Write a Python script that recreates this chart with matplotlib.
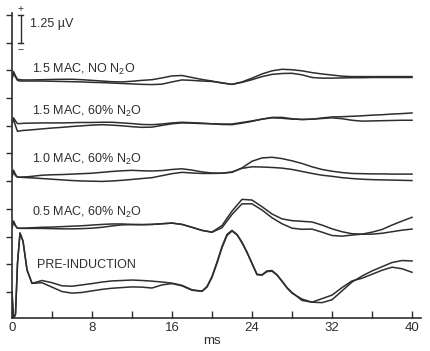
import matplotlib.pyplot as plt

plt.rcParams['font.family'] = ['Liberation Sans', 'DejaVu Sans']
plt.rcParams['mathtext.fontset'] = 'custom'
plt.rcParams['mathtext.rm'] = 'Liberation Sans'
plt.rcParams['mathtext.it'] = 'Liberation Sans:italic'

# time axis (ms)
t_ms = [0, 0.15, 0.35, 0.55, 0.8, 1.1, 1.5,
        2, 3, 4, 5, 6, 7, 8, 9, 10,
        11, 12, 13, 14, 15, 16, 17, 18, 19, 20,
        21, 22, 23, 24, 25, 26, 27, 28, 29, 30,
        31, 32, 33, 34, 35, 36, 37, 38, 39, 40]
# finer sampling around the big pre-induction wave
t_pre = [0, 0.15, 0.35, 0.55, 0.8, 1.1, 1.5,
         2, 3, 4, 5, 6, 7, 8, 9, 10, 11, 12, 13, 14, 15, 16, 17, 18,
         19, 19.5, 20, 20.5, 21, 21.5, 22, 22.5, 23, 23.5, 24, 24.5,
         25, 25.5, 26, 26.5, 27, 27.5, 28,
         29, 30, 31, 32, 33, 34, 35, 36, 37, 38, 39, 40]

# two superimposed runs per condition, in uV relative to each trace baseline
mac15_no_a = [0, 0.35, 0.15, 0.0, -0.02, -0.03, -0.03,
              -0.03, -0.02, -0.01, 0.0, 0.0, -0.02, -0.05, -0.08, -0.11,
              -0.12, -0.09, -0.05, -0.02, 0.06, 0.15, 0.17, 0.08, -0.01, -0.08,
              -0.17, -0.23, -0.12, 0.05, 0.24, 0.38, 0.45, 0.43, 0.38, 0.30,
              0.24, 0.19, 0.14, 0.12, 0.12, 0.12, 0.12, 0.12, 0.12, 0.12]
mac15_no_b = [0, 0.30, 0.10, -0.05, -0.08, -0.08, -0.08,
              -0.08, -0.08, -0.09, -0.10, -0.11, -0.12, -0.14, -0.15, -0.17,
              -0.19, -0.21, -0.23, -0.24, -0.22, -0.12, -0.03, -0.05, -0.08, -0.10,
              -0.16, -0.23, -0.14, -0.02, 0.12, 0.22, 0.26, 0.27, 0.20, 0.08,
              0.05, 0.05, 0.06, 0.07, 0.07, 0.08, 0.08, 0.08, 0.08, 0.08]

mac15_n2o_a = [0, 0.26, 0.12, 0.0, 0.0, 0.01, 0.02,
               0.02, 0.03, 0.03, 0.03, 0.04, 0.05, 0.05, 0.06, 0.06,
               0.03, 0.0, -0.04, -0.05, -0.02, 0.03, 0.06, 0.04, 0.02, -0.01,
               -0.04, -0.05, 0.02, 0.10, 0.20, 0.28, 0.28, 0.22, 0.18, 0.20,
               0.25, 0.30, 0.31, 0.33, 0.35, 0.38, 0.40, 0.43, 0.45, 0.48]
mac15_n2o_b = [0, 0.20, -0.10, -0.35, -0.33, -0.31, -0.30,
               -0.28, -0.24, -0.20, -0.17, -0.13, -0.10, -0.07, -0.05, -0.07,
               -0.10, -0.14, -0.17, -0.16, -0.08, -0.01, 0.03, 0.02, 0.0, -0.01,
               -0.02, -0.02, 0.05, 0.12, 0.20, 0.26, 0.24, 0.20, 0.19, 0.20,
               0.23, 0.26, 0.22, 0.15, 0.11, 0.12, 0.13, 0.14, 0.15, 0.15]

mac10_n2o_a = [0, 0.30, 0.10, -0.02, -0.02, -0.01, 0.0,
               0.02, 0.07, 0.09, 0.10, 0.12, 0.14, 0.16, 0.20, 0.24,
               0.27, 0.29, 0.27, 0.26, 0.28, 0.33, 0.36, 0.30, 0.22, 0.17,
               0.16, 0.20, 0.40, 0.70, 0.85, 0.88, 0.82, 0.72, 0.60, 0.45,
               0.33, 0.25, 0.19, 0.15, 0.14, 0.13, 0.13, 0.12, 0.12, 0.12]
mac10_n2o_b = [0, 0.25, 0.05, -0.02, -0.02, -0.03, -0.04,
               -0.05, -0.08, -0.11, -0.14, -0.17, -0.19, -0.20, -0.21, -0.19,
               -0.16, -0.12, -0.08, -0.04, 0.05, 0.14, 0.20, 0.17, 0.15, 0.15,
               0.16, 0.22, 0.38, 0.45, 0.44, 0.42, 0.39, 0.33, 0.24, 0.15,
               0.07, 0.02, -0.04, -0.08, -0.11, -0.13, -0.14, -0.15, -0.16, -0.17]

mac05_n2o_a = [0, 0.30, 0.10, -0.02, -0.02, -0.02, -0.01,
               0.0, 0.02, 0.03, 0.05, 0.07, 0.09, 0.12, 0.15, 0.17,
               0.17, 0.15, 0.14, 0.15, 0.18, 0.21, 0.15, 0.02, -0.12, -0.20,
               0.10, 0.75, 1.28, 1.25, 0.95, 0.62, 0.40, 0.32, 0.29, 0.26,
               0.12, -0.05, -0.18, -0.27, -0.29, -0.29, -0.25, -0.18, -0.11, -0.06]
mac05_n2o_b = [0, 0.28, 0.08, -0.02, -0.03, -0.03, -0.03,
               -0.03, -0.03, -0.04, -0.05, -0.05, -0.04, -0.02, 0.02, 0.08,
               0.13, 0.14, 0.14, 0.15, 0.18, 0.21, 0.15, 0.02, -0.12, -0.20,
               0.0, 0.60, 1.08, 1.08, 0.80, 0.45, 0.18, -0.02, -0.07, -0.06,
               -0.20, -0.35, -0.38, -0.33, -0.29, -0.20, -0.08, 0.12, 0.30, 0.47]

pre_a = [0, -1.2, -1.0, 1.3, 2.66, 2.3, 1.0,
         0.39, 0.52, 0.42, 0.28, 0.26, 0.32, 0.38, 0.45, 0.50,
         0.52, 0.54, 0.52, 0.49, 0.45, 0.40, 0.30, 0.10,
         0.04, 0.25, 0.70, 1.35, 2.05, 2.60, 2.78, 2.60, 2.25, 1.80, 1.30, 0.80,
         0.78, 0.95, 0.97, 0.78, 0.50, 0.20, -0.02,
         -0.38, -0.46, -0.30, -0.14, 0.20, 0.50, 0.62, 0.80, 0.98, 1.12, 1.05, 0.89]
pre_b = [0, -1.2, -1.0, 1.3, 2.66, 2.3, 1.0,
         0.39, 0.42, 0.22, 0.02, -0.05, -0.02, 0.05, 0.12, 0.17,
         0.20, 0.23, 0.22, 0.18, 0.32, 0.38, 0.28, 0.08,
         0.03, 0.22, 0.66, 1.30, 2.00, 2.55, 2.75, 2.58, 2.22, 1.78, 1.28, 0.78,
         0.76, 0.92, 0.94, 0.76, 0.48, 0.18, -0.05,
         -0.32, -0.46, -0.48, -0.35, 0.05, 0.45, 0.72, 0.95, 1.14, 1.33, 1.42, 1.40]

trace_labels = ['1.5 MAC, NO N$_2$O', '1.5 MAC, 60% N$_2$O', '1.0 MAC, 60% N$_2$O',
                '0.5 MAC, 60% N$_2$O', 'PRE-INDUCTION']
baselines = [9.6, 7.6, 5.2, 2.9, 0.0]
runs = [(t_ms, mac15_no_a, mac15_no_b), (t_ms, mac15_n2o_a, mac15_n2o_b),
        (t_ms, mac10_n2o_a, mac10_n2o_b), (t_ms, mac05_n2o_a, mac05_n2o_b),
        (t_pre, pre_a, pre_b)]

ink = '#2e2e2e'

fig = plt.figure(figsize=(4.3, 3.51), dpi=100)
ax = fig.add_axes([12 / 430, 33 / 351, 409 / 430, 305 / 351])

for base, (t, a, b) in zip(baselines, runs):
    ax.plot(t, [base + v for v in a], color=ink, lw=1.1, solid_joinstyle='round')
    ax.plot(t, [base + v for v in b], color=ink, lw=1.1, solid_joinstyle='round')

label_y = [10.06, 8.17, 5.96, 3.61, 1.22]
label_x = [2.0, 2.0, 2.0, 2.0, 2.5]
for txt, lx, ly in zip(trace_labels, label_x, label_y):
    ax.text(lx, ly, txt, fontsize=9, color=ink, ha='left', va='center')

# calibration bar
ax.plot([0.85, 0.85], [11.25, 12.5], color=ink, lw=1.0, clip_on=False)
ax.plot([0.6, 1.1], [12.5, 12.5], color=ink, lw=1.0, clip_on=False)
ax.plot([0.6, 1.1], [11.25, 11.25], color=ink, lw=1.0, clip_on=False)
ax.text(0.85, 12.55, '+', fontsize=7.5, color=ink, ha='center', va='bottom', clip_on=False)
ax.text(0.85, 11.15, '\u2212', fontsize=7.5, color=ink, ha='center', va='top')
ax.text(1.8, 12.09, '1.25 \u00b5V', fontsize=9, color=ink, ha='left', va='center')

ax.set_xlim(0, 40.9)
ax.set_ylim(-1.173, 12.59)

xt = list(range(0, 41, 4))
ax.set_xticks(xt)
ax.set_xticklabels([str(v) if v % 8 == 0 else '' for v in xt])
ax.set_yticks([1.25 * k for k in range(11)])
ax.set_yticklabels([])

ax.tick_params(axis='x', direction='in', length=5, width=1, colors=ink, labelsize=9.5, pad=3)
ax.tick_params(axis='y', direction='out', length=4, width=1, colors=ink)
for s in ['top', 'right']:
    ax.spines[s].set_visible(False)
for s in ['left', 'bottom']:
    ax.spines[s].set_color(ink)
    ax.spines[s].set_linewidth(1.2)

fig.text(212 / 430, 1 - 341 / 351, 'ms', fontsize=9.5, color=ink, ha='center', va='center')

fig.savefig('out.png', dpi=100)
